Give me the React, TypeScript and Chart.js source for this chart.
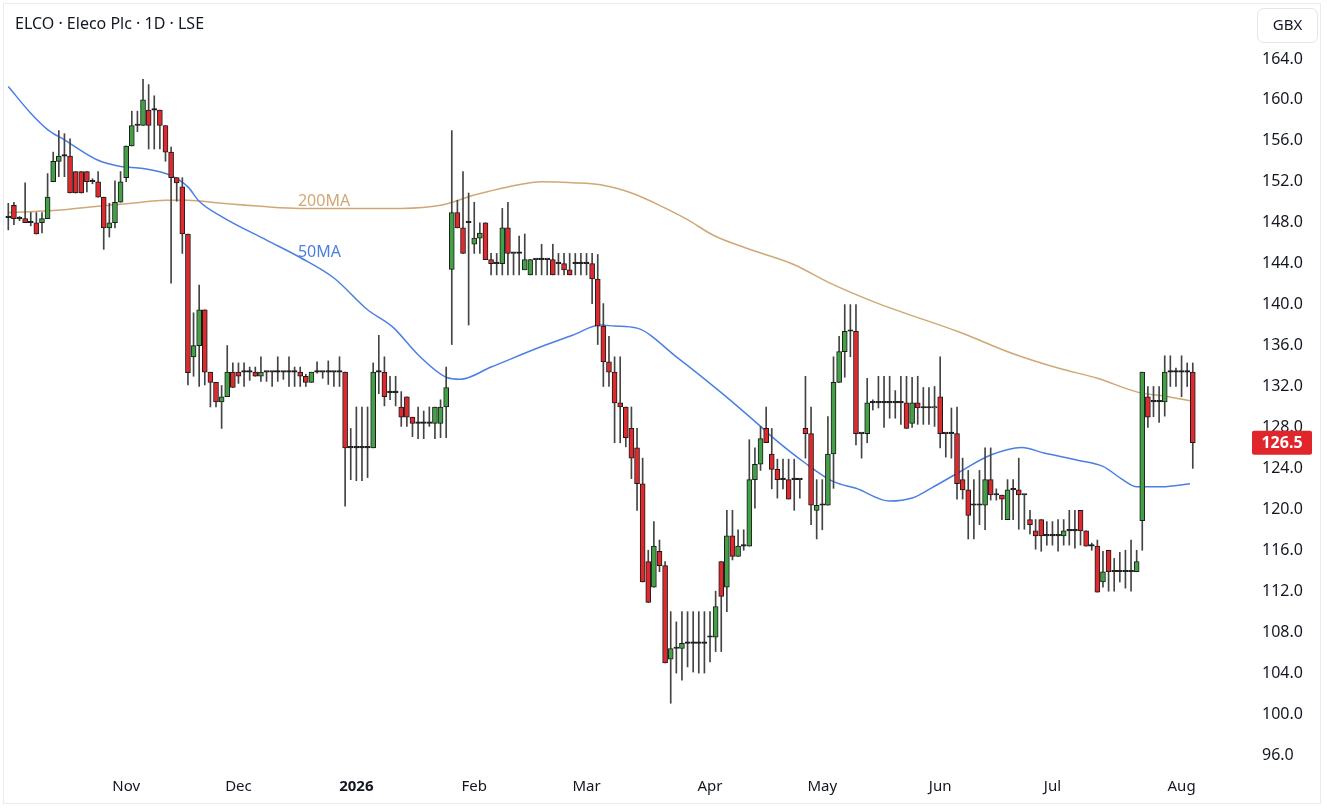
import React, { useEffect, useRef } from 'react';
import { Chart, registerables } from 'chart.js';

Chart.register(...registerables);

// ---- Daily OHLC (GBX), one entry per trading session ----
const OPEN = [
  148.5, 149.7, 148.4, 148.4, 148.0, 148.0, 148.0, 148.4, 152.0, 154.0,
  154.5, 154.5, 153.0, 153.0, 153.0, 152.0, 152.0, 150.5, 147.5, 148.0,
  150.0, 152.4, 155.5, 157.5, 157.5, 159.0, 159.0, 159.0, 157.5, 154.9,
  152.4, 151.5, 146.9, 134.9, 136.0, 139.5, 133.4, 132.4, 130.5, 131.0,
  133.4, 133.4, 133.4, 133.4, 133.4, 133.0, 133.4, 133.4, 133.4, 133.4,
  133.4, 133.4, 133.4, 133.0, 132.4, 133.4, 133.4, 133.4, 133.4, 133.4,
  133.4, 126.0, 126.0, 126.0, 126.0, 126.0, 133.4, 133.4, 131.4, 131.4,
  130.0, 131.0, 129.0, 128.4, 128.4, 128.4, 128.4, 128.4, 130.0, 143.45,
  149.0, 147.5, 148.0, 145.9, 146.5, 148.0, 144.4, 144.0, 144.0, 147.5,
  145.0, 145.0, 143.4, 142.9, 144.4, 144.4, 144.4, 144.4, 144.0, 144.0,
  143.4, 144.0, 144.0, 144.0, 144.0, 142.5, 137.9, 134.4, 133.4, 130.4,
  130.0, 127.9, 126.0, 122.5, 114.9, 112.4, 115.9, 114.5, 105.35, 106.4,
  106.4, 106.9, 106.9, 106.9, 106.9, 107.5, 107.5, 114.9, 112.4, 117.4,
  115.4, 116.4, 116.4, 122.9, 124.4, 127.9, 125.4, 123.9, 122.9, 122.9,
  122.9, 122.9, 127.9, 127.4, 119.9, 120.4, 120.4, 125.4, 132.4, 135.4,
  137.4, 137.4, 127.4, 127.4, 130.4, 130.4, 130.4, 130.4, 130.4, 130.4,
  130.4, 128.4, 130.4, 129.9, 129.9, 129.9, 131.0, 127.4, 127.4, 127.4,
  122.9, 121.9, 120.4, 120.4, 120.4, 122.9, 121.4, 121.4, 119.0, 121.9,
  121.9, 121.4, 119.0, 117.9, 119.0, 117.4, 117.4, 117.4, 117.4, 117.9,
  117.9, 119.9, 117.9, 116.4, 116.4, 112.9, 116.0, 113.9, 113.9, 113.9,
  113.9, 113.9, 118.9, 131.0, 130.5, 130.5, 130.5, 133.4, 133.4, 133.4,
  133.4, 133.4,
];

const HIGH = [
  149.9, 150.0, 148.6, 151.9, 149.0, 149.0, 149.0, 152.8, 154.9, 157.0,
  156.7, 156.2, 153.0, 153.0, 153.0, 152.3, 153.0, 150.5, 149.9, 152.1,
  153.0, 155.5, 158.9, 158.9, 162.0, 161.5, 160.4, 159.0, 157.5, 155.4,
  152.4, 152.4, 146.9, 139.2, 141.9, 139.5, 133.4, 132.4, 132.1, 136.0,
  134.3, 134.3, 134.3, 133.9, 133.9, 134.9, 133.4, 133.4, 134.9, 133.4,
  134.9, 133.9, 133.9, 133.2, 133.4, 134.4, 133.4, 134.5, 133.4, 134.9,
  133.4, 127.9, 130.0, 130.0, 130.0, 134.3, 137.0, 134.9, 133.0, 133.0,
  131.5, 131.0, 129.0, 130.0, 129.6, 130.0, 130.0, 130.7, 133.9, 157.0,
  150.2, 153.0, 150.9, 150.0, 148.0, 148.0, 145.0, 145.0, 149.4, 150.0,
  145.0, 146.7, 146.9, 144.4, 144.4, 145.9, 144.4, 145.9, 145.0, 145.0,
  145.0, 145.0, 145.0, 145.0, 145.0, 144.9, 140.1, 136.9, 134.9, 134.9,
  130.0, 130.0, 127.9, 125.0, 116.0, 118.8, 117.0, 114.9, 110.0, 109.0,
  110.0, 110.0, 110.0, 110.0, 110.0, 110.0, 112.0, 114.9, 119.9, 119.9,
  118.0, 118.0, 126.8, 126.0, 128.1, 130.0, 127.9, 124.9, 124.9, 124.9,
  124.9, 122.9, 133.0, 130.0, 122.9, 122.9, 129.05, 134.9, 136.9, 140.0,
  140.0, 140.0, 127.4, 132.8, 130.7, 133.0, 133.0, 133.0, 131.6, 133.0,
  133.0, 132.9, 133.0, 131.9, 131.9, 132.0, 134.9, 127.4, 129.9, 130.0,
  125.0, 123.8, 122.9, 123.8, 126.0, 126.0, 122.0, 121.4, 122.9, 122.9,
  125.0, 121.4, 119.9, 119.0, 119.0, 118.8, 118.8, 119.0, 119.0, 119.9,
  119.9, 119.9, 117.9, 116.7, 117.0, 115.9, 116.0, 115.2, 115.8, 116.0,
  117.0, 116.0, 133.4, 132.0, 132.0, 132.0, 135.0, 135.0, 133.8, 135.0,
  134.3, 134.3,
];

const LOW = [
  147.3, 147.8, 148.2, 148.0, 147.7, 146.9, 147.0, 148.4, 152.0, 152.5,
  152.5, 150.9, 150.9, 150.9, 151.0, 151.8, 150.5, 145.4, 146.6, 147.5,
  150.0, 152.0, 155.5, 156.9, 157.5, 155.2, 155.2, 155.2, 154.0, 142.1,
  150.1, 145.0, 132.15, 133.0, 132.0, 132.15, 130.0, 130.0, 127.9, 131.0,
  131.9, 132.3, 132.0, 132.6, 133.0, 132.5, 132.5, 132.0, 132.5, 132.7,
  132.0, 132.0, 132.0, 132.0, 132.4, 133.3, 132.8, 132.2, 132.0, 132.0,
  120.3, 122.9, 122.8, 122.8, 123.1, 126.0, 131.3, 130.1, 130.7, 130.1,
  128.1, 128.1, 127.1, 126.9, 126.9, 128.1, 126.9, 127.0, 127.0, 136.1,
  147.5, 145.0, 138.0, 145.0, 145.0, 144.4, 142.9, 142.9, 142.9, 142.9,
  142.9, 142.9, 143.4, 142.9, 142.9, 142.9, 142.9, 142.9, 142.9, 142.9,
  142.9, 142.9, 142.9, 142.9, 140.1, 136.1, 132.0, 132.0, 126.5, 126.5,
  126.1, 123.0, 119.9, 112.9, 110.9, 112.4, 113.9, 105.0, 101.05, 104.0,
  103.3, 104.6, 104.1, 104.0, 104.0, 105.1, 106.1, 106.1, 110.0, 115.05,
  115.4, 116.0, 116.4, 120.1, 123.8, 126.5, 122.0, 121.1, 122.0, 121.0,
  119.9, 121.1, 125.0, 118.5, 117.1, 118.0, 120.4, 122.05, 132.4, 132.9,
  134.9, 126.3, 125.0, 126.5, 129.7, 129.9, 128.0, 128.9, 128.9, 128.3,
  127.9, 128.0, 128.3, 128.3, 128.3, 128.1, 126.0, 125.1, 125.0, 121.0,
  121.0, 117.1, 117.1, 118.5, 118.0, 120.9, 120.9, 119.0, 119.0, 119.0,
  118.05, 118.05, 117.6, 116.1, 115.9, 116.5, 116.5, 115.9, 116.5, 116.5,
  116.2, 116.5, 116.4, 116.0, 111.9, 112.4, 112.0, 112.0, 112.9, 112.3,
  112.0, 113.9, 116.0, 128.0, 129.05, 128.5, 129.1, 132.0, 132.0, 131.0,
  132.0, 124.0,
];

const CLOSE = [
  148.5, 148.4, 148.4, 148.0, 148.0, 146.9, 148.4, 150.5, 154.0, 154.5,
  154.5, 150.9, 150.9, 150.9, 152.0, 152.0, 150.5, 147.5, 148.0, 150.0,
  152.0, 155.5, 157.5, 157.5, 160.0, 157.5, 159.0, 157.5, 154.9, 152.4,
  151.9, 146.9, 133.35, 136.0, 139.5, 133.4, 132.4, 130.5, 131.0, 133.4,
  131.9, 133.0, 133.4, 133.4, 133.0, 133.4, 133.4, 133.4, 133.4, 133.4,
  133.4, 133.4, 133.0, 132.4, 133.4, 133.4, 133.4, 133.4, 133.4, 133.4,
  126.0, 126.0, 126.0, 126.0, 126.0, 133.4, 133.4, 131.0, 131.4, 131.4,
  129.0, 129.0, 128.4, 128.4, 128.4, 128.4, 130.0, 130.0, 131.9, 149.0,
  147.5, 145.0, 148.0, 146.5, 147.0, 144.4, 144.0, 144.0, 147.5, 145.0,
  145.0, 145.0, 144.4, 144.4, 144.4, 144.4, 144.4, 142.9, 144.0, 143.4,
  142.9, 144.0, 144.0, 144.0, 142.5, 137.9, 134.4, 133.4, 130.4, 130.0,
  127.0, 125.0, 122.5, 112.9, 110.9, 116.4, 114.5, 105.0, 106.4, 106.4,
  106.9, 106.9, 106.9, 106.9, 106.9, 107.5, 110.5, 111.5, 117.4, 115.4,
  116.4, 116.4, 122.9, 124.4, 126.9, 126.5, 123.9, 122.9, 122.9, 121.0,
  122.9, 122.9, 127.4, 120.4, 120.4, 120.4, 125.4, 132.4, 135.4, 137.4,
  137.4, 127.4, 127.4, 130.4, 130.4, 130.4, 130.4, 130.4, 130.4, 130.4,
  127.9, 130.4, 129.9, 129.9, 129.9, 130.0, 127.4, 127.4, 127.4, 122.5,
  121.9, 119.4, 120.4, 120.4, 122.9, 121.4, 121.4, 121.0, 121.9, 121.9,
  121.4, 121.4, 118.5, 117.4, 117.4, 117.4, 117.4, 117.4, 117.9, 117.9,
  117.9, 117.9, 116.4, 116.4, 111.9, 113.9, 113.9, 113.9, 113.9, 113.9,
  113.9, 114.9, 133.4, 129.0, 130.5, 130.5, 133.4, 133.4, 133.4, 133.4,
  133.4, 126.5,
];

// ---- Moving averages: [session index, value] ----
const MA50_IDX = [0, 4, 7, 10, 16, 20, 24, 29, 32, 34, 38, 46, 52, 58, 64, 68.5, 73, 78, 80.5, 86, 95, 100.5, 105.5, 108, 112, 119, 127, 134, 136, 142, 147, 151, 157, 161, 164.5, 169, 175, 180.5, 184.5, 190.5, 195, 198.5, 201, 205.5, 210.5];
const MA50_VAL = [161.3, 158.7, 157.1, 156.1, 154.1, 153.5, 153.3, 152.6, 151.5, 150.1, 148.6, 146.3, 144.6, 142.6, 139.5, 137.8, 135.1, 132.9, 132.7, 133.9, 135.9, 137.0, 138.0, 137.9, 137.7, 134.9, 131.4, 128.1, 127.1, 124.5, 122.7, 122.05, 120.8, 121.1, 122.1, 123.5, 125.3, 126.05, 125.5, 124.8, 124.2, 122.9, 122.2, 122.2, 122.5];

const MA200_IDX = [0, 4.5, 10.5, 16, 22, 28, 32, 38, 45, 52, 60, 70, 77, 83, 89, 95, 100.5, 105.5, 111, 116, 121, 125.5, 131.5, 140, 146, 155, 169.5, 179, 187, 194, 201.5, 205.5, 210.5];
const MA200_VAL = [149.0, 149.1, 149.3, 149.6, 149.9, 150.2, 150.2, 149.9, 149.6, 149.4, 149.4, 149.4, 149.7, 150.7, 151.5, 152.0, 151.9, 151.7, 150.9, 149.7, 148.3, 146.8, 145.5, 143.9, 142.2, 140.1, 137.3, 135.2, 133.8, 132.8, 131.4, 131.1, 130.6];

// ---- Axis ticks ----
const MONTH_TICKS = [21, 41, 62, 83, 103, 125, 145, 166, 186, 209];
const MONTH_LABELS = ['Nov', 'Dec', '2026', 'Feb', 'Mar', 'Apr', 'May', 'Jun', 'Jul', 'Aug'];
const PRICE_TICKS = [96, 100, 104, 108, 112, 116, 120, 124, 128, 132, 136, 140, 144, 148, 152, 156, 160, 164];

const TITLE = 'ELCO · Eleco Plc · 1D · LSE';
const CURRENCY = 'GBX';
const LAST_PRICE = CLOSE[CLOSE.length - 1];

const FONT = '"Noto Sans", "Open Sans", sans-serif';
const UP = '#43a047';
const DOWN = '#dd2a2f';
const BLUE = '#4a7fe3';
const TAN = '#d0a873';
const TEXT = '#131722';

export default function App() {
  const ref = useRef<HTMLCanvasElement | null>(null);

  useEffect(() => {
    document.body.style.margin = '0';
    const canvas = ref.current;
    if (!canvas) return;

    const idx = OPEN.map((_, i) => i);
    const bodyColor = (i: number) =>
      CLOSE[i] > OPEN[i] ? UP : CLOSE[i] < OPEN[i] ? DOWN : '#111';

    const overlay = {
      id: 'overlay',
      afterDraw(chart: any) {
        const { ctx } = chart;
        const xs = chart.scales.x;
        const ys = chart.scales.y;
        ctx.save();
        // Title
        ctx.font = `16px ${FONT}`;
        ctx.fillStyle = TEXT;
        ctx.textAlign = 'left';
        ctx.textBaseline = 'middle';
        ctx.fillText(TITLE, 15, 24);

        // MA labels
        ctx.font = `16px ${FONT}`;
        ctx.fillStyle = TAN;
        ctx.fillText('200MA', xs.getPixelForValue(51.6), ys.getPixelForValue(150.1));
        ctx.fillStyle = BLUE;
        ctx.fillText('50MA', xs.getPixelForValue(51.6), ys.getPixelForValue(145.1));

        // Currency box
        const r = (x: number, y: number, w: number, h: number, rad: number) => {
          ctx.beginPath();
          ctx.moveTo(x + rad, y);
          ctx.arcTo(x + w, y, x + w, y + h, rad);
          ctx.arcTo(x + w, y + h, x, y + h, rad);
          ctx.arcTo(x, y + h, x, y, rad);
          ctx.arcTo(x, y, x + w, y, rad);
          ctx.closePath();
        };
        r(1257.5, 8.5, 60, 34, 6);
        ctx.fillStyle = '#ffffff';
        ctx.fill();
        ctx.strokeStyle = '#e3e5ea';
        ctx.lineWidth = 1;
        ctx.stroke();
        ctx.fillStyle = TEXT;
        ctx.font = `15px ${FONT}`;
        ctx.textAlign = 'center';
        ctx.fillText(CURRENCY, 1287.5, 26);

        // Last price label
        const py = ys.getPixelForValue(LAST_PRICE);
        r(1252, py - 12, 60, 24, 2);
        ctx.fillStyle = '#e0252b';
        ctx.fill();
        ctx.fillStyle = '#ffffff';
        ctx.font = `bold 16px ${FONT}`;
        ctx.fillText(LAST_PRICE.toFixed(1), 1282, py + 0.5);
        ctx.restore();
      },
    };

    const chart = new Chart(canvas, {
      type: 'bar',
      data: {
        datasets: [
          {
            type: 'bar',
            label: 'body',
            data: idx.map((i) => ({ x: i, y: [OPEN[i], CLOSE[i]] })) as any,
            backgroundColor: (c: any) => bodyColor(c.dataIndex),
            borderColor: '#1b1b1b',
            borderWidth: 1,
            borderSkipped: false,
            barThickness: 5,
            minBarLength: 1.5,
            grouped: false,
            order: 0,
          } as any,
          {
            type: 'bar',
            label: 'wick',
            data: idx.map((i) => ({ x: i, y: [LOW[i], HIGH[i]] })) as any,
            backgroundColor: '#444444',
            borderWidth: 0,
            barThickness: 1,
            grouped: false,
            order: 1,
          } as any,
          {
            type: 'line',
            label: '50MA',
            data: MA50_IDX.map((x, k) => ({ x, y: MA50_VAL[k] })),
            borderColor: BLUE,
            borderWidth: 1.5,
            pointRadius: 0,
            cubicInterpolationMode: 'monotone',
            order: 2,
          } as any,
          {
            type: 'line',
            label: '200MA',
            data: MA200_IDX.map((x, k) => ({ x, y: MA200_VAL[k] })),
            borderColor: TAN,
            borderWidth: 1.5,
            pointRadius: 0,
            cubicInterpolationMode: 'monotone',
            order: 3,
          } as any,
        ],
      },
      options: {
        animation: false,
        responsive: false,
        maintainAspectRatio: false,
        layout: { padding: { left: 4, top: 4, right: 0, bottom: 5 } },
        plugins: { legend: { display: false }, tooltip: { enabled: false } },
        scales: {
          x: {
            type: 'linear',
            min: -0.766,
            max: 220.3,
            offset: false,
            grid: { display: false },
            border: { display: false },
            afterBuildTicks: (s: any) => {
              s.ticks = MONTH_TICKS.map((v) => ({ value: v }));
            },
            afterFit: (s: any) => {
              s.height = 35;
            },
            ticks: {
              autoSkip: false,
              maxRotation: 0,
              padding: 0,
              color: TEXT,
              font: (c: any) => ({
                family: FONT,
                size: 15,
                weight: c.tick && c.tick.value === 62 ? 'bold' : 'normal',
              }),
              callback: (v: any) => {
                const k = MONTH_TICKS.indexOf(Number(v));
                return k >= 0 ? MONTH_LABELS[k] : '';
              },
            },
          } as any,
          y: {
            type: 'linear',
            position: 'right',
            min: 94.53,
            max: 169.37,
            grid: { display: false, drawTicks: false },
            border: { display: false },
            afterBuildTicks: (s: any) => {
              s.ticks = PRICE_TICKS.map((v) => ({ value: v }));
            },
            afterFit: (s: any) => {
              s.width = 82;
              s.paddingTop = 0;
              s.paddingBottom = 0;
            },
            ticks: {
              padding: 17,
              color: TEXT,
              font: { family: FONT, size: 16 },
              callback: (v: any) => Number(v).toFixed(1),
            },
          } as any,
        },
      },
      plugins: [overlay],
    });

    return () => chart.destroy();
  }, []);

  return (
    <div style={{ position: 'relative', width: 1327, height: 810, background: '#ffffff' }}>
      <div
        style={{
          position: 'absolute',
          left: 3,
          top: 3,
          width: 1318,
          height: 801,
          border: '1px solid #ebebeb',
          boxSizing: 'border-box',
        }}
      />
      <canvas ref={ref} width={1327} height={810} style={{ position: 'absolute', left: 0, top: 0 }} />
    </div>
  );
}
